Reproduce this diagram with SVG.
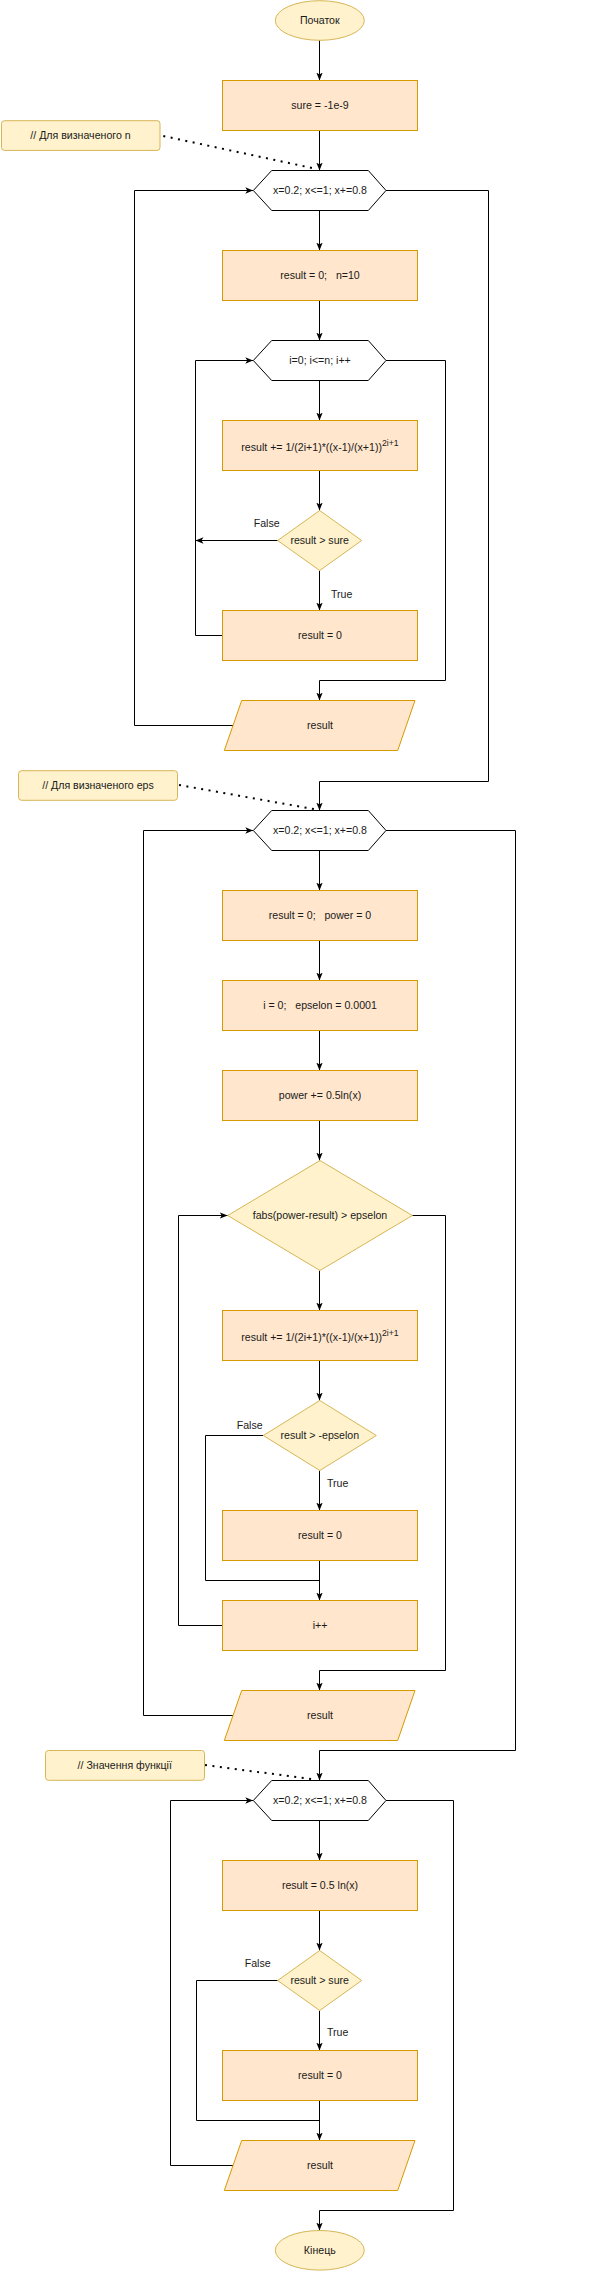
<svg xmlns="http://www.w3.org/2000/svg" width="589" height="2271" viewBox="0 0 589 2271">
<style>
text{font-family:"Liberation Sans",Arial,Helvetica,sans-serif;font-size:10.6px;fill:#1a1a1a;text-anchor:middle}
.proc{fill:#ffe6cc;stroke:#d79b00;stroke-width:1}
.term{fill:#fff2cc;stroke:#d6b656;stroke-width:1}
.hex{fill:#ffffff;stroke:#000000;stroke-width:1}
.conn path{fill:none;stroke:#000000;stroke-width:1}
.conn path.arr{marker-end:url(#ah)}
.conn path.dot{stroke-width:2;stroke-dasharray:2 5.5}
</style>
<defs>
<marker id="ah" viewBox="0 0 10 10" refX="10" refY="5" markerWidth="8" markerHeight="8" markerUnits="userSpaceOnUse" orient="auto">
<path d="M0,1 L10,5 L0,9 L2.5,5 z" fill="#000000"/>
</marker>
</defs>
<rect width="589" height="2271" fill="#ffffff"/>

<g id="connectors" class="conn">
<path class="arr" d="M319.5,40.3 V80.5"/>
<path class="arr" d="M319.5,130.5 V170.5"/>
<path class="arr" d="M319.5,210.5 V250.5"/>
<path class="arr" d="M319.5,300.5 V340.5"/>
<path class="arr" d="M319.5,380.5 V420.5"/>
<path class="arr" d="M319.5,470.5 V510.5"/>
<path class="arr" d="M319.5,570.5 V610.5"/>
<path class="arr" d="M277.7,540.5 H195.5"/>
<path class="arr" d="M222.5,635.5 H195.5 V360.5 H253.3"/>
<path class="arr" d="M386,360.5 H445.5 V680.5 H319.5 V700.5"/>
<path class="arr" d="M233,725.5 H134.5 V190.5 H253.3"/>
<path class="arr" d="M386,190.5 H488.5 V781.5 H319.5 V810.5"/>
<path class="dot" d="M163.3,136 L316.7,169"/>

<path class="arr" d="M319.5,850.5 V890.5"/>
<path class="arr" d="M319.5,940.5 V980.5"/>
<path class="arr" d="M319.5,1030.5 V1070.5"/>
<path class="arr" d="M319.5,1120.5 V1160.5"/>
<path class="arr" d="M319.5,1270.5 V1310.5"/>
<path class="arr" d="M319.5,1360.5 V1400.5"/>
<path class="arr" d="M319.5,1470.5 V1510.5"/>
<path class="arr" d="M319.5,1560.5 V1600.5"/>
<path d="M263.3,1435.5 H205.5 V1580.5 H319.5"/>
<path class="arr" d="M222.5,1625.5 H178.5 V1215.5 H227.7"/>
<path class="arr" d="M412.3,1215.5 H445.5 V1670.5 H319.5 V1690.5"/>
<path class="arr" d="M233,1715.5 H143.5 V830.5 H253.3"/>
<path class="arr" d="M386,830.5 H515.5 V1750.5 H319.5 V1780.5"/>
<path class="dot" d="M179,785 L315,809.3"/>

<path class="arr" d="M319.5,1820.5 V1860.5"/>
<path class="arr" d="M319.5,1910.5 V1950.5"/>
<path class="arr" d="M319.5,2010.5 V2050.5"/>
<path class="arr" d="M319.5,2100.5 V2140.5"/>
<path d="M277.7,1980.5 H196.5 V2120.5 H319.5"/>
<path class="arr" d="M233,2165.5 H170.5 V1800.5 H253.3"/>
<path class="arr" d="M386,1800.5 H453.5 V2210.5 H319.5 V2230.5"/>
<path class="dot" d="M205,1765 L313.3,1779.3"/>
</g>

<g id="start"><ellipse class="term" cx="319.8" cy="20.5" rx="44.5" ry="19.8"/><text x="319.8" y="24.3">Початок</text></g>
<g id="sure"><rect class="proc" x="222.5" y="80.5" width="195" height="50"/><text x="320" y="109.3">sure = -1e-9</text></g>
<g id="note1"><rect class="term" x="1.5" y="120.7" width="158.5" height="29.7" rx="3"/><text x="80.5" y="139.3">// Для визначеного n</text></g>
<g id="hex1"><polygon class="hex" points="253.3,190.5 271.7,170.5 368.3,170.5 386,190.5 368.3,210.5 271.7,210.5"/><text x="320" y="194.3">x=0.2; x&lt;=1; x+=0.8</text></g>
<g id="init1"><rect class="proc" x="222.5" y="250.5" width="195" height="50"/><text x="320" y="279.3" xml:space="preserve">result = 0;   n=10</text></g>
<g id="hex2"><polygon class="hex" points="253.3,360.5 271.7,340.5 368.3,340.5 386,360.5 368.3,380.5 271.7,380.5"/><text x="320" y="364.3">i=0; i&lt;=n; i++</text></g>
<g id="sum1"><rect class="proc" x="222.5" y="420.5" width="195" height="50"/><text x="320" y="451.3">result += 1/(2i+1)*((x-1)/(x+1))<tspan dy="-5" font-size="8.7px">2i+1</tspan></text></g>
<g id="dec1"><polygon class="term" points="319.7,510.5 361.7,540.5 319.7,570.5 277.7,540.5"/><text x="319.7" y="544.3">result &gt; sure</text></g>
<g id="lbl1f"><text x="266.7" y="526.5">False</text></g>
<g id="lbl1t"><text x="341.7" y="598.3">True</text></g>
<g id="zero1"><rect class="proc" x="222.5" y="610.5" width="195" height="50"/><text x="320" y="639.3">result = 0</text></g>
<g id="out1"><polygon class="proc" points="241.7,700.5 415,700.5 397.7,750.5 224.3,750.5"/><text x="320" y="729.3">result</text></g>

<g id="note2"><rect class="term" x="18.5" y="770.7" width="159" height="29.6" rx="3"/><text x="98" y="789.3">// Для визначеного eps</text></g>
<g id="hex3"><polygon class="hex" points="253.3,830.5 271.7,810.5 368.3,810.5 386,830.5 368.3,850.5 271.7,850.5"/><text x="320" y="834.3">x=0.2; x&lt;=1; x+=0.8</text></g>
<g id="init2"><rect class="proc" x="222.5" y="890.5" width="195" height="50"/><text x="320" y="919.3" xml:space="preserve">result = 0;   power = 0</text></g>
<g id="init3"><rect class="proc" x="222.5" y="980.5" width="195" height="50"/><text x="320" y="1009.3" xml:space="preserve">i = 0;   epselon = 0.0001</text></g>
<g id="power"><rect class="proc" x="222.5" y="1070.5" width="195" height="50"/><text x="320" y="1099.3">power += 0.5ln(x)</text></g>
<g id="dec2"><polygon class="term" points="320,1160.5 412.3,1215.5 320,1270.5 227.7,1215.5"/><text x="320" y="1219.3">fabs(power-result) &gt; epselon</text></g>
<g id="sum2"><rect class="proc" x="222.5" y="1310.5" width="195" height="50"/><text x="320" y="1341.3">result += 1/(2i+1)*((x-1)/(x+1))<tspan dy="-5" font-size="8.7px">2i+1</tspan></text></g>
<g id="dec3"><polygon class="term" points="319.8,1400.5 376.3,1435.5 319.8,1470.5 263.3,1435.5"/><text x="319.8" y="1439.3">result &gt; -epselon</text></g>
<g id="lbl3f"><text x="249.7" y="1428.8">False</text></g>
<g id="lbl3t"><text x="337.7" y="1486.5">True</text></g>
<g id="zero2"><rect class="proc" x="222.5" y="1510.5" width="195" height="50"/><text x="320" y="1539.3">result = 0</text></g>
<g id="inc"><rect class="proc" x="222.5" y="1600.5" width="195" height="50"/><text x="320" y="1629.3">i++</text></g>
<g id="out2"><polygon class="proc" points="241.7,1690.5 415,1690.5 397.7,1740.5 224.3,1740.5"/><text x="320" y="1719.3">result</text></g>

<g id="note3"><rect class="term" x="45.5" y="1750.5" width="159" height="29.8" rx="3"/><text x="124.7" y="1768.8">// Значення функції</text></g>
<g id="hex4"><polygon class="hex" points="253.3,1800.5 271.7,1780.5 368.3,1780.5 386,1800.5 368.3,1820.5 271.7,1820.5"/><text x="320" y="1804.3">x=0.2; x&lt;=1; x+=0.8</text></g>
<g id="lnx"><rect class="proc" x="222.5" y="1860.5" width="195" height="50"/><text x="320" y="1889.3">result = 0.5 ln(x)</text></g>
<g id="dec4"><polygon class="term" points="319.7,1950.5 361.7,1980.5 319.7,2010.5 277.7,1980.5"/><text x="319.7" y="1984.3">result &gt; sure</text></g>
<g id="lbl4f"><text x="257.7" y="1966.5">False</text></g>
<g id="lbl4t"><text x="337.7" y="2036.1">True</text></g>
<g id="zero3"><rect class="proc" x="222.5" y="2050.5" width="195" height="50"/><text x="320" y="2079.3">result = 0</text></g>
<g id="out3"><polygon class="proc" points="241.7,2140.5 415,2140.5 397.7,2190.5 224.3,2190.5"/><text x="320" y="2169.3">result</text></g>
<g id="end"><ellipse class="term" cx="319.8" cy="2250.3" rx="44.5" ry="19.8"/><text x="319.8" y="2254.1">Кінець</text></g>
</svg>
